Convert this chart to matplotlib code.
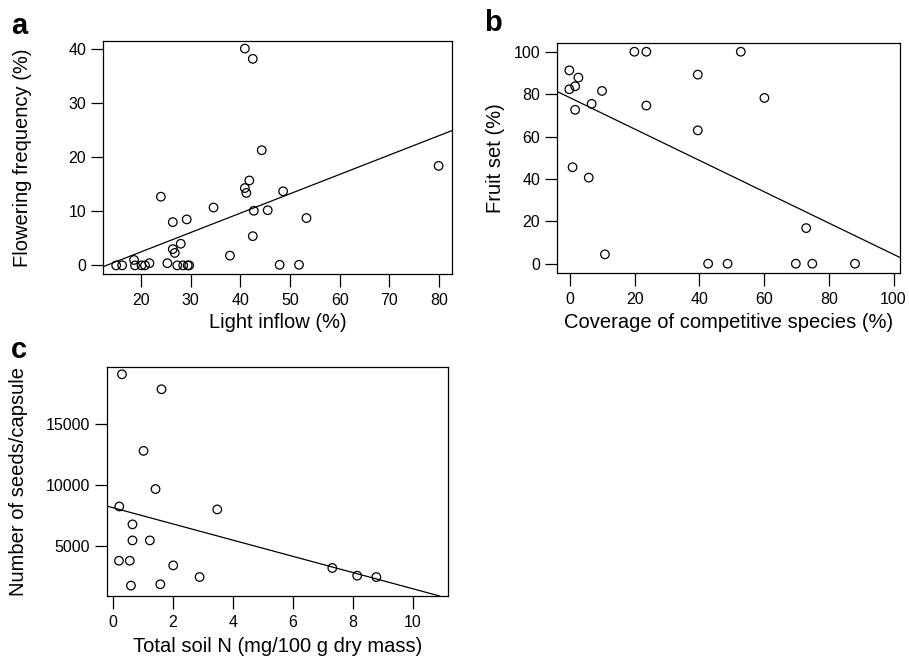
import numpy as np
import matplotlib
matplotlib.use('Agg')
import matplotlib.pyplot as plt

plt.rcParams['font.family'] = ['Liberation Sans', 'DejaVu Sans']

# panel a: light inflow vs flowering frequency
light = [15.0, 16.2, 18.6, 18.8, 20.1, 20.8, 21.7, 24.0, 25.3, 26.4, 26.4, 26.8,
         27.3, 28.0, 28.5, 29.2, 29.4, 29.7, 34.6, 37.9, 40.9, 42.5, 40.9, 41.2,
         41.8, 44.3, 42.7, 42.5, 45.5, 48.6, 47.9, 51.8, 53.3, 79.9]
flowering = [0.0, 0.0, 1.0, 0.0, 0.0, 0.0, 0.4, 12.7, 0.4, 8.0, 3.0, 2.3,
             0.0, 4.0, 0.0, 8.5, 0.0, 0.0, 10.7, 1.8, 40.1, 38.2, 14.3, 13.4,
             15.7, 21.3, 10.1, 5.4, 10.2, 13.7, 0.1, 0.1, 8.75, 18.4]
fit_a = (-4.68, 0.3585)  # intercept, slope

# panel b: coverage of competitive species vs fruit set
coverage = [-0.2, -0.2, 1.6, 2.6, 1.6, 0.8, 5.8, 6.7, 9.9, 10.8, 19.9, 23.6,
            23.6, 39.5, 39.5, 42.7, 48.7, 52.8, 60.1, 69.8, 73.0, 74.9, 88.1]
fruit_set = [91.2, 82.3, 83.7, 87.8, 72.6, 45.5, 40.6, 75.4, 81.5, 4.4, 100.0, 100.0,
             74.6, 89.2, 62.9, 0.0, 0.0, 100.0, 78.2, 0.0, 16.8, 0.0, 0.0]
fit_b = (78.3, -0.739)

# panel c: total soil N vs seeds per capsule
soil_n = [0.30, 1.62, 1.02, 1.42, 0.21, 3.48, 0.65, 0.65, 1.23, 0.20, 0.56, 2.01,
          2.89, 0.60, 1.58, 7.32, 8.15, 8.79]
seeds = [19020, 17800, 12770, 9650, 8230, 7990, 6770, 5460, 5460, 3800, 3800, 3420,
         2470, 1770, 1880, 3210, 2580, 2470]
fit_c = (8128, -661)

fig = plt.figure(figsize=(9.09, 6.56), dpi=100)

def panel(rect, x, y, fit, xlim, ylim, xticks, yticks, xlabel, ylabel, letter,
          xlab_y, ylab_x, letter_xy):
    ax = fig.add_axes(rect)
    ax.scatter(x, y, s=38, facecolors='none', edgecolors='black', linewidths=0.9, zorder=3)
    ax.axline((0, fit[0]), slope=fit[1], color='black', lw=0.9)
    ax.set_xlim(xlim)
    ax.set_ylim(ylim)
    ax.set_xticks(xticks)
    ax.set_yticks(yticks)
    ax.tick_params(direction='out', length=9, width=0.9, labelsize=11.5, pad=3)
    ax.tick_params(axis='x', pad=5)
    for s in ax.spines.values():
        s.set_linewidth(0.9)
    ax.set_xlabel(xlabel, fontsize=14.5)
    ax.set_ylabel(ylabel, fontsize=14.5)
    ax.xaxis.set_label_coords(0.5, xlab_y)
    ax.yaxis.set_label_coords(ylab_x, 0.5)
    fig.text(letter_xy[0], letter_xy[1], letter, fontsize=21, fontweight='bold',
             va='top', ha='left')
    return ax

panel([0.1133, 0.5823, 0.384, 0.3552], light, flowering, fit_a,
      (12.35, 82.6), (-1.6, 41.5), range(20, 81, 10), range(0, 41, 10),
      'Light inflow (%)', 'Flowering frequency (%)', 'a', -0.167, -0.203,
      (0.012, 0.982))

panel([0.6128, 0.5838, 0.3773, 0.3506], coverage, fruit_set, fit_b,
      (-4.0, 102.0), (-4.4, 104.1), range(0, 101, 20), range(0, 101, 20),
      'Coverage of competitive species (%)', 'Fruit set (%)', 'b', -0.174, -0.152,
      (0.533, 0.986))

panel([0.1177, 0.0915, 0.3751, 0.3491], soil_n, seeds, fit_c,
      (-0.2, 11.18), (924, 19618), range(0, 11, 2), [5000, 10000, 15000],
      'Total soil N (mg/100 g dry mass)', 'Number of seeds/capsule', 'c', -0.179, -0.232,
      (0.012, 0.488))

fig.savefig('out.png', dpi=100)
